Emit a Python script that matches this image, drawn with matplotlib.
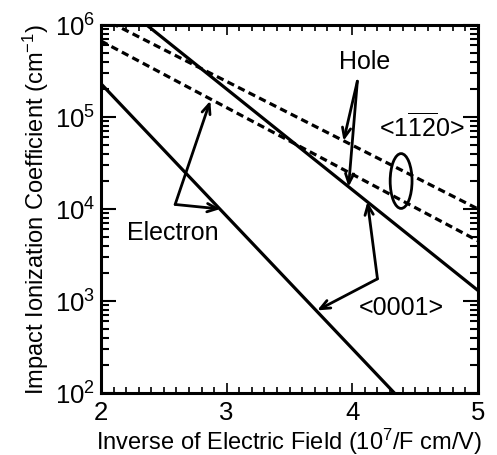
import numpy as np
import matplotlib
matplotlib.use('Agg')
import matplotlib.pyplot as plt
from matplotlib.ticker import MultipleLocator, LogLocator, NullFormatter
from matplotlib.patches import Ellipse

plt.rcParams['font.family'] = ['Liberation Sans', 'DejaVu Sans']
plt.rcParams['mathtext.fontset'] = 'custom'
plt.rcParams['mathtext.rm'] = 'Liberation Sans'
plt.rcParams['mathtext.it'] = 'Liberation Sans:italic'
plt.rcParams['mathtext.bf'] = 'Liberation Sans:bold'

# inverse field, 10^7/F cm/V (line end points)
inv_field = [2, 5]

# impact ionization coefficients (cm^-1) at the end points
hole_1120 = [1.2e6, 1.0e4]
elec_1120 = [6.7e5, 4.5e3]
hole_0001 = [2.5e6, 1.3e3]
elec_0001 = [2.3e5, 11]

fig = plt.figure(figsize=(4.97, 4.56), dpi=100)
ax = fig.add_axes([0.2032, 0.136, 0.7586, 0.807])

dash = (2.3, 1.4)
ax.plot(inv_field, hole_1120, color='black', lw=2.3, ls=(0, dash))
ax.plot(inv_field, elec_1120, color='black', lw=2.3, ls=(0, dash))
ax.plot(inv_field, hole_0001, color='black', lw=2.3)
ax.plot(inv_field, elec_0001, color='black', lw=2.3)

ax.set_yscale('log')
ax.set_xlim(2, 5)
ax.set_ylim(1e2, 1e6)
ax.set_xticks([2, 3, 4, 5])
ax.xaxis.set_minor_locator(MultipleLocator(0.1))
ax.yaxis.set_major_locator(LogLocator(base=10))
ax.yaxis.set_minor_locator(LogLocator(base=10, subs=np.arange(2, 10)))
ax.yaxis.set_minor_formatter(NullFormatter())

for s in ax.spines.values():
    s.set_linewidth(2.2)
ax.tick_params(which='both', direction='in', top=True, right=True,
               labelsize=18.5, color='black')
ax.tick_params(axis='x', which='major', length=7, width=1.2, pad=5)
ax.tick_params(axis='x', which='minor', length=4.5, width=1.2)
ax.tick_params(axis='y', which='major', length=11, width=1.5, pad=4)
ax.tick_params(axis='y', which='minor', length=6, width=1.5)

ax.set_xlabel(r'Inverse of Electric Field (10$^7$/F cm/V)', fontsize=17, labelpad=1)
ax.set_ylabel(r'Impact Ionization Coefficient (cm$^{-1}$)', fontsize=17, labelpad=3)

arr = dict(arrowstyle='->,head_length=0.7,head_width=0.3', lw=2, color='black',
           shrinkA=0, shrinkB=0)

# Hole
ax.text(4.10, 4.07e5, 'Hole', fontsize=18, ha='center', va='center')
ax.annotate('', xy=(3.93, 5.5e4), xytext=(4.04, 2.45e5), arrowprops=arr)
ax.annotate('', xy=(3.97, 1.74e4), xytext=(4.04, 2.45e5), arrowprops=arr)

# Electron
ax.text(2.57, 5.6e3, 'Electron', fontsize=18, ha='center', va='center')
ax.annotate('', xy=(2.87, 1.5e5), xytext=(2.59, 1.12e4), arrowprops=arr)
ax.annotate('', xy=(2.95, 1.0e4), xytext=(2.59, 1.12e4), arrowprops=arr)

# <0001>
ax.text(4.39, 850, '<0001>', fontsize=18, ha='center', va='center')
ax.annotate('', xy=(4.12, 1.2e4), xytext=(4.20, 1.74e3), arrowprops=arr)
ax.annotate('', xy=(3.72, 790), xytext=(4.20, 1.74e3), arrowprops=arr)

# <11-20>
ax.text(4.55, 7.9e4, r'<1$\overline{12}$0>', fontsize=18, ha='center', va='center')
ax.add_patch(Ellipse((0.796, 0.576), 0.058, 0.149, transform=ax.transAxes,
                     fill=False, lw=2, color='black'))

fig.savefig('out.png', dpi=100)
